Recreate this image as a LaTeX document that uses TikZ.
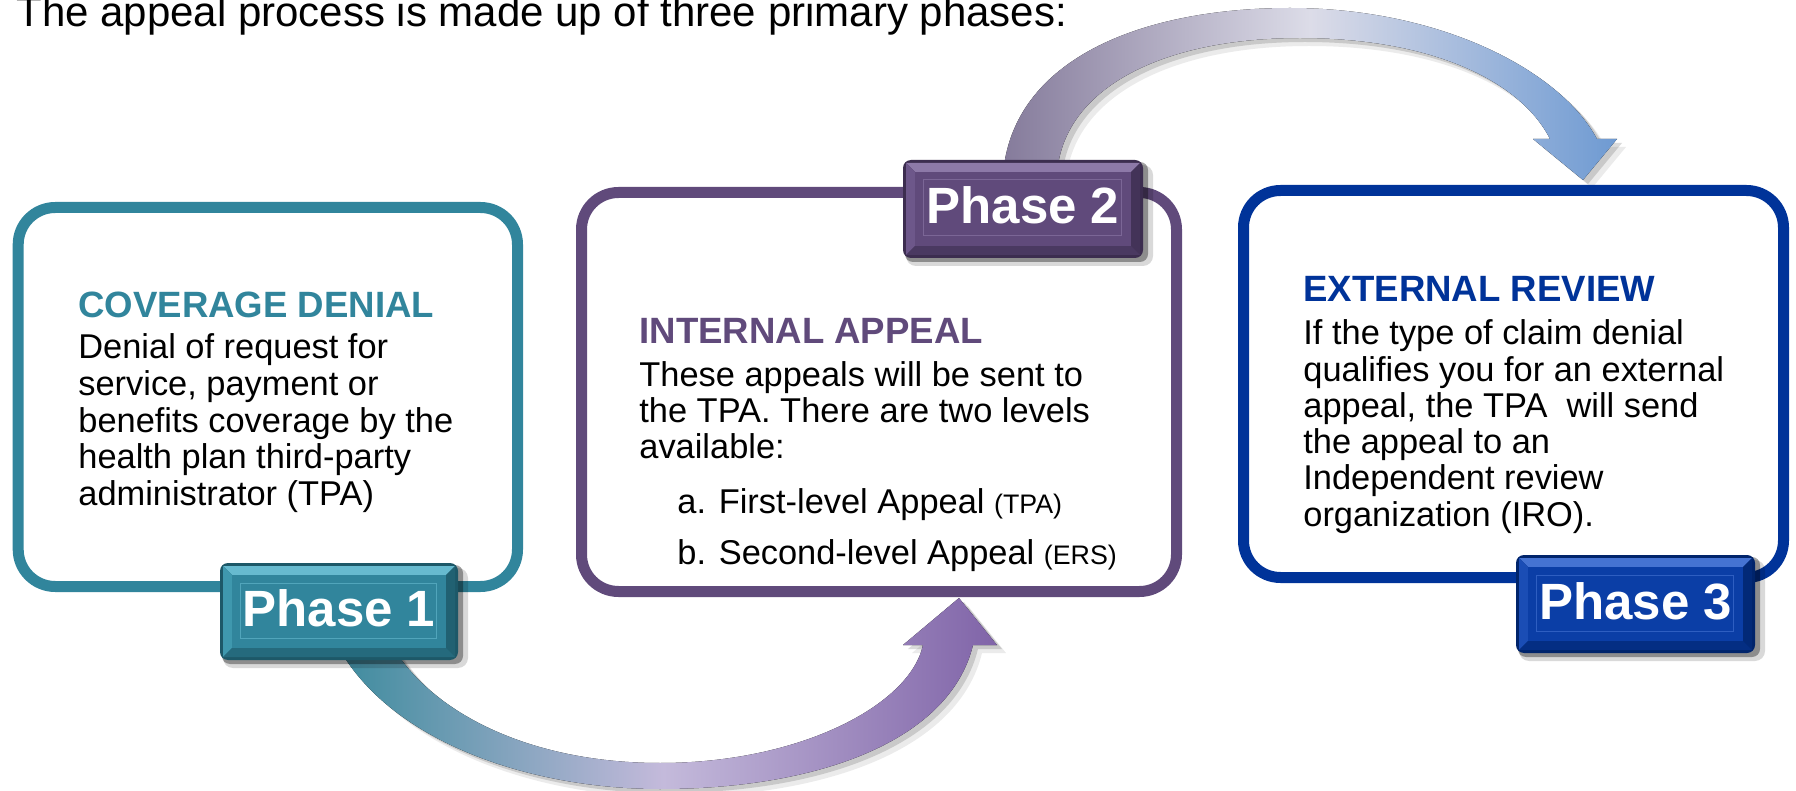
\documentclass[tikz,border=0pt]{standalone}
\usepackage{fontspec}
\setmainfont{Liberation Sans}
\usetikzlibrary{calc}
\definecolor{tealc}{HTML}{31859C}
\definecolor{purpc}{HTML}{604A7B}
\definecolor{bluec}{HTML}{003399}
\definecolor{PAmain}{HTML}{31859C}\definecolor{PAlight}{HTML}{67BACF}\definecolor{PAmid}{HTML}{3F98AE}\definecolor{PAdark}{HTML}{1D5868}
\definecolor{PBmain}{HTML}{604A7B}\definecolor{PBlight}{HTML}{8D79A8}\definecolor{PBmid}{HTML}{6D578A}\definecolor{PBdark}{HTML}{3C2D4F}
\definecolor{PCmain}{HTML}{0B3EA6}\definecolor{PClight}{HTML}{4573D2}\definecolor{PCmid}{HTML}{1A4DB5}\definecolor{PCdark}{HTML}{00246B}
\definecolor{arrAL}{HTML}{3A8A9C}\definecolor{arrAM}{HTML}{C4BADB}\definecolor{arrAR}{HTML}{8064A8}
\definecolor{arrBL}{HTML}{857B9B}\definecolor{arrBM}{HTML}{DCDCE8}\definecolor{arrBR}{HTML}{6E9AD2}
\newcommand\phasebadge[7]{%
  \fill[black,opacity=.15,rounded corners=5pt] ({#2+3},{#3+5}) rectangle ({#4+10},{#5+8});
  \fill[black,opacity=.35,rounded corners=4pt] ({#2+2},{#3+2}) rectangle ({#4+5},{#5+4});
  \fill[#6dark,rounded corners=4pt] (#2,#3) rectangle (#4,#5);
  \fill[#6light] ({#2+3},{#3+3}) -- ({#4-3},{#3+3}) -- ({#4-12},{#3+12}) -- ({#2+12},{#3+12}) -- cycle;
  \fill[#6mid] ({#2+3},{#3+3}) -- ({#2+12},{#3+12}) -- ({#2+12},{#5-12}) -- ({#2+3},{#5-3}) -- cycle;
  \fill[#6dark!80!#6main] ({#4-3},{#3+3}) -- ({#4-12},{#3+12}) -- ({#4-12},{#5-12}) -- ({#4-3},{#5-3}) -- cycle;
  \fill[#6dark!60!#6main] ({#2+3},{#5-3}) -- ({#2+12},{#5-12}) -- ({#4-12},{#5-12}) -- ({#4-3},{#5-3}) -- cycle;
  \fill[#6main] ({#2+12},{#3+12}) rectangle ({#4-12},{#5-12});
  \draw[#6light!60!#6main,line width=.5pt] ({#2+20},{#3+20}) rectangle ({#4-22},{#5-22});
  \node[phasetxt] (#1) at ({(#2+#4)/2},{(#3+#5)/2+15}) {#7};
}
\def\botarrow{(330,630) .. controls (374,735) and (520,789) .. (660,789)
  .. controls (820,789) and (950,740) .. (973,645)
  -- (997,645) -- (959,598) -- (903,645) -- (923,645)
  .. controls (910,705) and (800,763) .. (660,763)
  .. controls (520,763) and (417,705) .. (384,630) -- cycle}
\def\toparrow{(1003,175) .. controls (1012,60) and (1140,8) .. (1290,8)
  .. controls (1440,8) and (1560,70) .. (1597,139)
  -- (1617,139) -- (1583,180) -- (1533,139) -- (1550,139)
  .. controls (1520,80) and (1430,38) .. (1300,38)
  .. controls (1160,38) and (1062,90) .. (1057,175) -- cycle}
\begin{document}
\begin{tikzpicture}[x=0.5pt,y=-0.5pt,
  boxst/.style={line width=5.5pt,rounded corners=18.5pt,fill=white,inner sep=0pt},
  body/.style={anchor=base west,inner sep=0pt,font=\fontsize{17.2}{20}\selectfont},
  headt/.style={anchor=base west,inner sep=0pt,font=\fontsize{18.3}{20}\selectfont\bfseries},
  phasetxt/.style={anchor=base,inner sep=0pt,text=white,font=\fontsize{25.5}{28}\selectfont\bfseries},
  titlet/.style={anchor=base west,inner sep=0pt,font=\fontsize{21}{24}\selectfont}]
\useasboundingbox[fill=white] (0,0) rectangle (1796,791);
% title
\node[titlet] (title) at (16,27) {The appeal process is made up of three primary phases:};
% arrows (shadows then fills)
\fill[black,opacity=.08,shift={(9,8)}] \botarrow;
\fill[black,opacity=.14,shift={(5,4)}] \botarrow;
\fill[left color=arrAL,right color=arrAR,middle color=arrAM] \botarrow;
\fill[black,opacity=.08,shift={(9,8)}] \toparrow;
\fill[black,opacity=.14,shift={(5,4)}] \toparrow;
\fill[left color=arrBL,right color=arrBR,middle color=arrBM] \toparrow;
% boxes
\node[boxst,draw=tealc,minimum width=249.65pt,minimum height=189.5pt] (box1) at (267.85,397) {};
\node[boxst,draw=purpc,minimum width=297.5pt,minimum height=199.5pt] (box2) at (879,392) {};
\node[boxst,draw=bluec,minimum width=270pt,minimum height=193.5pt] (box3) at (1513.5,384) {};
% box 1 text
\node[headt,text=tealc] (h1) at (78,318) {COVERAGE DENIAL};
\node[body] (b1a) at (78,359) {Denial of request for};
\node[body] (b1b) at (78,396) {service, payment or};
\node[body] (b1c) at (78,432.5) {benefits coverage by the};
\node[body] (b1d) at (78,469) {health plan third-party};
\node[body] (b1e) at (78,505.5) {administrator (TPA)};
% box 2 text
\node[headt,text=purpc] (h2) at (639,344) {INTERNAL APPEAL};
\node[body] (b2a) at (639,387) {These appeals will be sent to};
\node[body] (b2b) at (639,422.5) {the TPA. There are two levels};
\node[body] (b2c) at (639,458.5) {available:};
\node[body] (b2d) at (677,514) {a. First-level Appeal {\fontsize{13.4}{16}\selectfont (TPA)}};
\node[body] (b2e) at (677,565) {b. Second-level Appeal {\fontsize{13.4}{16}\selectfont (ERS)}};
% box 3 text
\node[headt,text=bluec] (h3) at (1303,302) {EXTERNAL REVIEW};
\node[body] (b3a) at (1303,345) {If the type of claim denial};
\node[body] (b3b) at (1303,381.5) {qualifies you for an external};
\node[body] (b3c) at (1303,418) {appeal, the TPA\ \ will send};
\node[body] (b3d) at (1303,454) {the appeal to an};
\node[body] (b3e) at (1303,490) {Independent review};
\node[body] (b3f) at (1303,526) {organization (IRO).};
% badges
\phasebadge{p1}{220}{563}{458}{660}{PA}{Phase 1}
\phasebadge{p2}{903}{160}{1143}{258}{PB}{Phase 2}
\phasebadge{p3}{1516}{555}{1755}{653}{PC}{Phase 3}
\end{tikzpicture}
\end{document}
